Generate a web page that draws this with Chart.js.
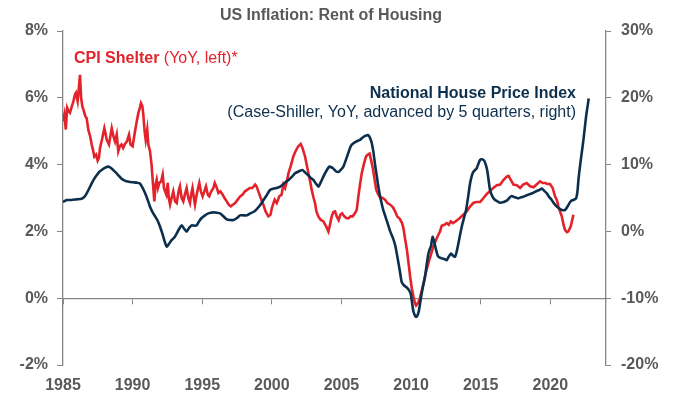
<!DOCTYPE html>
<html>
<head>
<meta charset="utf-8">
<script src="https://cdn.jsdelivr.net/npm/chart.js@4/dist/chart.umd.min.js"></script>
<style>
  html, body { margin: 0; padding: 0; background: #fff; }
  canvas { display: block; }
</style>
</head>
<body>
<canvas id="chart" width="673" height="400"></canvas>
<script>
// CPI Shelter, YoY %, left axis
const cpiYears = [
  1985.0, 1985.1, 1985.2, 1985.3, 1985.4, 1985.5, 1985.6, 1985.75, 1985.86, 1985.93, 1986.05, 1986.12, 1986.22,
  1986.3, 1986.39, 1986.5, 1986.6, 1986.7, 1986.82, 1986.95, 1987.06, 1987.15, 1987.25, 1987.38, 1987.49,
  1987.58, 1987.66, 1987.8, 1987.97, 1988.07, 1988.14, 1988.3, 1988.5, 1988.62, 1988.74, 1988.86, 1988.97,
  1989.08, 1989.2, 1989.32, 1989.45, 1989.6, 1989.74, 1989.85, 1990.0, 1990.17, 1990.3, 1990.41, 1990.52,
  1990.6, 1990.7, 1990.77, 1990.86, 1990.94, 1991.05, 1991.13, 1991.25, 1991.36, 1991.44, 1991.56, 1991.65,
  1991.73, 1991.82, 1991.92, 1992.05, 1992.16, 1992.25, 1992.33, 1992.42, 1992.52, 1992.6, 1992.69, 1992.8,
  1992.92, 1993.05, 1993.17, 1993.3, 1993.4, 1993.52, 1993.64, 1993.75, 1993.88, 1994.0, 1994.12, 1994.2,
  1994.3, 1994.4, 1994.48, 1994.6, 1994.7, 1994.79, 1994.9, 1995.03, 1995.15, 1995.27, 1995.4, 1995.5,
  1995.65, 1995.8, 1995.9, 1996.05, 1996.16, 1996.3, 1996.47, 1996.6, 1996.76, 1996.9, 1997.05, 1997.2,
  1997.36, 1997.55, 1997.72, 1997.9, 1998.07, 1998.25, 1998.43, 1998.6, 1998.8, 1998.9, 1999.03, 1999.2,
  1999.39, 1999.55, 1999.75, 1999.9, 2000.0, 2000.2, 2000.35, 2000.54, 2000.7, 2000.83, 2000.95, 2001.1,
  2001.2, 2001.35, 2001.55, 2001.7, 2001.9, 2002.07, 2002.2, 2002.38, 2002.5, 2002.62, 2002.75, 2002.86,
  2003.0, 2003.1, 2003.2, 2003.34, 2003.5, 2003.7, 2003.9, 2004.06, 2004.15, 2004.3, 2004.42, 2004.54,
  2004.66, 2004.8, 2004.92, 2005.05, 2005.2, 2005.35, 2005.5, 2005.65, 2005.8, 2005.98, 2006.1, 2006.2,
  2006.33, 2006.46, 2006.6, 2006.77, 2006.9, 2007.02, 2007.12, 2007.25, 2007.38, 2007.5, 2007.65, 2007.77,
  2007.95, 2008.13, 2008.3, 2008.5, 2008.7, 2008.85, 2009.0, 2009.2, 2009.35, 2009.45, 2009.58, 2009.7,
  2009.82, 2009.93, 2010.05, 2010.17, 2010.28, 2010.36, 2010.48, 2010.6, 2010.75, 2010.9, 2011.05, 2011.24,
  2011.42, 2011.6, 2011.8, 2011.96, 2012.08, 2012.2, 2012.4, 2012.56, 2012.7, 2012.85, 2013.0, 2013.2,
  2013.35, 2013.5, 2013.75, 2014.0, 2014.25, 2014.47, 2014.7, 2014.96, 2015.2, 2015.44, 2015.7, 2015.9,
  2016.16, 2016.4, 2016.63, 2016.87, 2017.0, 2017.15, 2017.35, 2017.6, 2017.83, 2018.05, 2018.3, 2018.55,
  2018.8, 2019.05, 2019.27, 2019.45, 2019.63, 2019.8, 2019.98, 2020.17, 2020.34, 2020.47, 2020.58, 2020.7,
  2020.83, 2020.95, 2021.06, 2021.2, 2021.3, 2021.47, 2021.66
];
const cpiValues = [
  5.3, 5.5, 5.05, 5.7, 5.6, 5.55, 5.7, 5.9, 6.1, 6.15, 5.9, 6.2, 6.69,
  6.0, 5.74, 5.6, 5.45, 5.39, 5.04, 4.85, 4.6, 4.45, 4.24, 4.3, 4.12,
  4.2, 4.5, 4.75, 5.09, 4.9, 4.74, 4.6, 5.09, 4.85, 4.69, 4.9, 4.4,
  4.55, 4.6, 4.5, 4.62, 4.7, 4.89, 4.6, 4.55, 4.99, 5.3, 5.54, 5.7,
  5.84, 5.75, 5.49, 5.0, 4.74, 5.05, 4.6, 4.4, 4.0, 3.55, 2.9, 3.4,
  3.55, 3.3, 3.45, 3.5, 3.7, 3.3, 3.2, 3.1, 3.45, 3.0, 2.8, 3.0,
  3.2, 2.9, 2.85, 3.2, 3.35, 3.0, 2.9, 3.1, 3.3, 3.0, 2.85, 3.1,
  3.3, 3.0, 2.8, 3.1, 3.3, 3.45, 3.2, 3.05, 3.2, 3.35, 3.1, 3.05,
  3.2, 3.3, 3.45, 3.3, 3.15, 3.2, 3.1, 3.0, 2.9, 2.8, 2.75, 2.8,
  2.85, 2.95, 3.05, 3.1, 3.2, 3.25, 3.3, 3.3, 3.4, 3.35, 3.2, 3.0,
  2.8, 2.6, 2.45, 2.5, 2.7, 2.95, 2.85, 3.05, 3.1, 3.4, 3.3, 3.55,
  3.75, 3.95, 4.25, 4.4, 4.55, 4.62, 4.5, 4.25, 4.0, 3.75, 3.5, 3.25,
  3.0, 2.85, 2.6, 2.45, 2.35, 2.3, 2.15, 2.0, 2.15, 2.45, 2.58, 2.6,
  2.45, 2.34, 2.5, 2.54, 2.45, 2.4, 2.39, 2.45, 2.45, 2.55, 2.65, 3.0,
  3.4, 3.75, 4.0, 4.25, 4.3, 4.33, 4.15, 3.9, 3.55, 3.24, 3.1, 3.02,
  3.0, 2.95, 2.85, 2.8, 2.72, 2.6, 2.45, 2.37, 2.25, 2.1, 1.75, 1.45,
  1.05, 0.65, 0.3, 0.05, -0.15, -0.22, -0.15, -0.05, 0.2, 0.45, 0.75, 1.05,
  1.3, 1.55, 1.75, 1.9, 2.0, 2.17, 2.2, 2.25, 2.2, 2.3, 2.25, 2.3,
  2.35, 2.4, 2.5, 2.6, 2.75, 2.85, 2.88, 2.88, 3.0, 3.12, 3.22, 3.3,
  3.38, 3.4, 3.54, 3.64, 3.66, 3.55, 3.4, 3.38, 3.3, 3.4, 3.45, 3.35,
  3.32, 3.42, 3.5, 3.45, 3.45, 3.42, 3.42, 3.3, 3.05, 2.94, 2.75, 2.6,
  2.44, 2.2, 2.04, 1.98, 2.0, 2.15, 2.5
];

// Case-Shiller national house price index, YoY %, advanced 5 quarters, right axis
const hpiYears = [
  1985.0, 1985.27, 1985.6, 1985.98, 1986.34, 1986.55, 1986.7, 1986.9, 1987.06, 1987.25, 1987.42, 1987.6,
  1987.78, 1988.0, 1988.26, 1988.45, 1988.6, 1988.8, 1988.97, 1989.15, 1989.33, 1989.55, 1989.8, 1990.05,
  1990.3, 1990.5, 1990.7, 1990.9, 1991.1, 1991.25, 1991.45, 1991.6, 1991.8, 1991.97, 1992.15, 1992.3,
  1992.45, 1992.6, 1992.8, 1993.0, 1993.17, 1993.35, 1993.53, 1993.7, 1993.88, 1994.05, 1994.24, 1994.45,
  1994.6, 1994.8, 1994.96, 1995.2, 1995.44, 1995.8, 1996.05, 1996.28, 1996.5, 1996.76, 1997.0, 1997.24,
  1997.5, 1997.72, 1998.0, 1998.2, 1998.45, 1998.67, 1998.9, 1999.15, 1999.4, 1999.63, 1999.87, 2000.1,
  2000.35, 2000.6, 2000.83, 2001.0, 2001.2, 2001.45, 2001.67, 2001.95, 2002.2, 2002.4, 2002.62, 2002.8,
  2002.98, 2003.15, 2003.34, 2003.5, 2003.7, 2003.9, 2004.13, 2004.28, 2004.42, 2004.6, 2004.78, 2004.95,
  2005.14, 2005.3, 2005.5, 2005.68, 2005.86, 2006.1, 2006.33, 2006.55, 2006.7, 2006.93, 2007.05, 2007.18,
  2007.3, 2007.4, 2007.52, 2007.65, 2007.8, 2008.0, 2008.13, 2008.3, 2008.5, 2008.7, 2008.85, 2008.98,
  2009.1, 2009.2, 2009.33, 2009.5, 2009.69, 2009.85, 2009.98, 2010.08, 2010.17, 2010.28, 2010.36, 2010.45,
  2010.55, 2010.66, 2010.77, 2010.88, 2011.0, 2011.12, 2011.24, 2011.35, 2011.42, 2011.5, 2011.56, 2011.64,
  2011.72, 2011.85, 2011.96, 2012.15, 2012.32, 2012.45, 2012.56, 2012.7, 2012.87, 2013.0, 2013.16, 2013.3,
  2013.4, 2013.52, 2013.64, 2013.8, 2013.95, 2014.1, 2014.24, 2014.36, 2014.47, 2014.6, 2014.7, 2014.85,
  2014.96, 2015.1, 2015.25, 2015.38, 2015.48, 2015.58, 2015.67, 2015.85, 2016.03, 2016.2, 2016.4, 2016.65,
  2016.87, 2017.05, 2017.23, 2017.45, 2017.7, 2017.9, 2018.07, 2018.3, 2018.55, 2018.8, 2019.03, 2019.2,
  2019.39, 2019.55, 2019.75, 2019.9, 2020.1, 2020.3, 2020.47, 2020.65, 2020.83, 2021.06, 2021.2, 2021.37,
  2021.5, 2021.66, 2021.85, 2021.95, 2022.02, 2022.1, 2022.19, 2022.38, 2022.57, 2022.76
];
const hpiValues = [
  4.4, 4.7, 4.7, 4.8, 4.9, 5.2, 5.7, 6.5, 7.2, 7.9, 8.4, 8.9,
  9.2, 9.5, 9.7, 9.5, 9.2, 8.8, 8.4, 8.0, 7.7, 7.5, 7.4, 7.35,
  7.3, 7.2, 6.6, 5.7, 4.6, 3.7, 2.8, 2.3, 1.6, 0.7, -0.4, -1.5,
  -2.3, -1.9, -1.3, -0.9, -0.3, 0.4, 0.9, 0.4, -0.05, 0.5, 0.9, 0.85,
  0.9, 1.6, 2.0, 2.4, 2.7, 2.85, 2.8, 2.7, 2.3, 1.8, 1.7, 1.7,
  2.0, 2.4, 2.4, 2.4, 2.7, 2.9, 3.3, 3.9, 4.7, 5.4, 6.2, 6.4,
  6.5, 6.7, 7.1, 7.4, 7.7, 8.2, 8.7, 9.0, 9.2, 8.8, 8.4, 8.0,
  7.7, 7.2, 6.7, 7.3, 8.2, 9.0, 9.7, 9.6, 9.4, 9.0, 8.9, 9.2,
  9.7, 10.6, 11.8, 12.8, 13.2, 13.5, 13.7, 14.1, 14.3, 14.4, 14.0, 13.2,
  11.8, 10.2, 8.5, 6.7, 5.0, 3.2, 2.4, 1.3, 0.0, -1.0, -2.0, -3.4,
  -4.8, -6.0, -7.6, -8.1, -8.4, -8.8, -9.4, -10.8, -12.0, -12.6, -12.8, -12.6,
  -12.0, -10.6, -9.2, -8.0, -6.8, -5.0, -3.4, -2.6, -2.3, -1.3, -0.8, -1.4,
  -2.1, -3.2, -3.8, -4.0, -4.1, -4.2, -4.3, -3.8, -3.3, -3.6, -3.8, -2.8,
  -1.8, -0.5, 0.7, 2.0, 3.2, 5.2, 7.2, 8.3, 8.9, 9.2, 9.4, 10.2,
  10.7, 10.8, 10.6, 9.9, 9.0, 7.5, 6.2, 5.2, 4.7, 4.5, 4.3, 4.4,
  4.6, 5.0, 5.3, 5.1, 4.95, 5.1, 5.2, 5.4, 5.6, 5.8, 6.05, 6.2,
  6.4, 6.1, 5.7, 5.2, 4.7, 4.1, 3.7, 3.4, 3.2, 3.2, 3.6, 4.2,
  4.6, 4.7, 4.95, 6.0, 7.7, 9.2, 10.7, 13.7, 17.2, 19.9
];

const leftTicks = [-2, 0, 2, 4, 6, 8];
const rightTicks = [-20, -10, 0, 10, 20, 30];
const yearTicks = [1985, 1990, 1995, 2000, 2005, 2010, 2015, 2020];

const RED = "#e2232b";
const NAVY = "#0c2f4d";
const GREY = "#595959";
const AXIS = "#868686";
const FONT = "'Liberation Sans', Arial, sans-serif";

const annotations = {
  id: "annotations",
  afterDraw(chart) {
    const ctx = chart.ctx;
    ctx.save();
    ctx.textBaseline = "alphabetic";

    // title
    ctx.font = `bold 16px ${FONT}`;
    ctx.fillStyle = GREY;
    ctx.textAlign = "center";
    ctx.fillText("US Inflation: Rent of Housing", 331, 20);

    // CPI label
    ctx.textAlign = "left";
    ctx.fillStyle = RED;
    ctx.font = `bold 16px ${FONT}`;
    const bold = "CPI Shelter ";
    ctx.fillText(bold, 74, 63);
    const w = ctx.measureText(bold).width;
    ctx.font = `16px ${FONT}`;
    ctx.fillText("(YoY, left)*", 74 + w, 63);

    // HPI label
    ctx.textAlign = "right";
    ctx.fillStyle = NAVY;
    ctx.font = `bold 16px ${FONT}`;
    ctx.fillText("National House Price Index", 576, 98);
    ctx.font = `16px ${FONT}`;
    ctx.fillText("(Case-Shiller, YoY, advanced by 5 quarters, right)", 576, 117);
    ctx.restore();
  }
};

const tickFont = { family: FONT, size: 16, weight: "bold" };

new Chart(document.getElementById("chart"), {
  type: "line",
  data: {
    datasets: [
      {
        label: "National House Price Index",
        data: hpiYears.map((x, i) => ({ x, y: hpiValues[i] })),
        borderColor: NAVY,
        borderWidth: 2.6,
        pointRadius: 0,
        tension: 0.2,
        xAxisID: "x",
        yAxisID: "y2",
      },
      {
        label: "CPI Shelter",
        data: cpiYears.map((x, i) => ({ x, y: cpiValues[i] })),
        borderColor: RED,
        borderWidth: 2.6,
        pointRadius: 0,
        tension: 0,
        xAxisID: "x",
        yAxisID: "y",
      },
    ],
  },
  options: {
    responsive: false,
    animation: false,
    layout: { padding: { top: 31, left: 0, right: 0, bottom: 0 } },
    plugins: {
      legend: { display: false },
      tooltip: { enabled: false },
    },
    scales: {
      x: {
        type: "linear",
        position: { y: 0 },
        min: 1985,
        max: 2024,
        afterBuildTicks: (s) => { s.ticks = yearTicks.map((v) => ({ value: v })); },
        ticks: { display: false },
        grid: { drawOnChartArea: false, tickLength: 5, color: AXIS },
        border: { color: AXIS, width: 1.3 },
      },
      x2: {
        type: "linear",
        position: "bottom",
        min: 1985,
        max: 2024,
        afterBuildTicks: (s) => { s.ticks = yearTicks.map((v) => ({ value: v })); },
        afterFit: (s) => { s.height = 35; },
        ticks: {
          font: tickFont,
          color: GREY,
          padding: 11,
          maxRotation: 0,
          autoSkip: false,
          callback: (v) => String(v),
        },
        grid: { display: false, drawTicks: false },
        border: { display: false },
      },
      y: {
        position: "left",
        min: -2,
        max: 8,
        afterBuildTicks: (s) => { s.ticks = leftTicks.map((v) => ({ value: v })); },
        afterFit: (s) => { s.width = 63; },
        ticks: { font: tickFont, color: GREY, padding: 9, callback: (v) => v + "%" },
        grid: { drawOnChartArea: false, tickLength: 6, color: AXIS },
        border: { color: AXIS, width: 1.3 },
      },
      y2: {
        position: "right",
        min: -20,
        max: 30,
        afterBuildTicks: (s) => { s.ticks = rightTicks.map((v) => ({ value: v })); },
        afterFit: (s) => { s.width = 67; },
        ticks: { font: tickFont, color: GREY, padding: 10, callback: (v) => v + "%" },
        grid: { drawOnChartArea: false, tickLength: 5, color: AXIS },
        border: { color: AXIS, width: 1.3 },
      },
    },
  },
  plugins: [annotations],
});
</script>
</body>
</html>
